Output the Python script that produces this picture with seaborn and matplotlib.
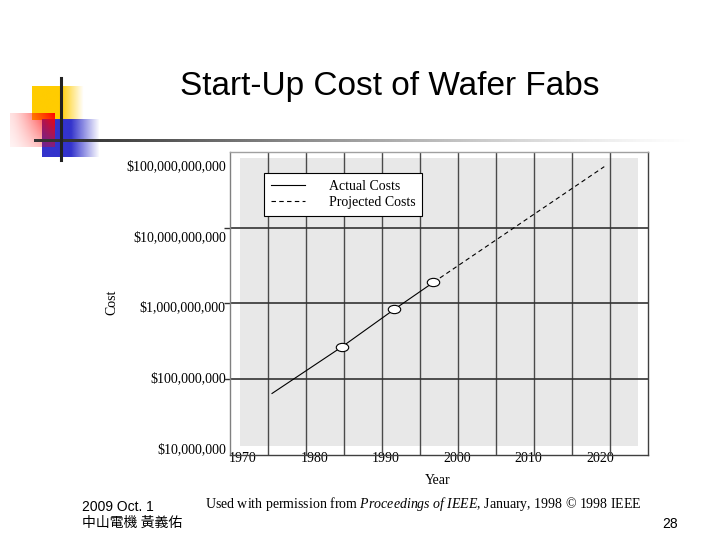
import numpy as np
import matplotlib
matplotlib.use('Agg')
import matplotlib.pyplot as plt
from matplotlib.patches import Rectangle
from matplotlib.path import Path
from matplotlib.transforms import Affine2D
from matplotlib.ticker import FixedLocator, NullFormatter
import seaborn as sns

plt.rcParams.update({
    'font.family': 'Liberation Serif',
    'font.size': 10,
    'mathtext.fontset': 'custom',
    'mathtext.rm': 'Liberation Serif',
    'mathtext.it': 'Liberation Serif:italic',
})

# Values (cost on a log scale)
ACTUAL_YEARS = [1974.1, 1983.9, 1991.2, 1996.7]
ACTUAL_COSTS = [5.9e7, 2.7e8, 9.1e8, 2.2e9]
MARKED_YEARS = [1983.9, 1991.2, 1996.7]
MARKED_COSTS = [2.7e8, 9.1e8, 2.2e9]
PROJ_YEARS = [1996.7, 2020.6]
PROJ_COSTS = [2.2e9, 9.5e10]

X_TICKS = [1970, 1980, 1990, 2000, 2010, 2020]
Y_TICKS = [1e7, 1e8, 1e9, 1e10, 1e11]
Y_LABELS = ['$10,000,000', '$100,000,000', '$1,000,000,000',
            '$10,000,000,000', '$100,000,000,000']
SERIES = ['Actual Costs', 'Projected Costs']

XLIM = (1968.22, 2026.72)
YLIM = (7.96e6, 1.53e11)

fig = plt.figure(figsize=(7.2, 5.4), dpi=100)

# ---- slide decoration (pixel coordinates) ----
deco = fig.add_axes([0, 0, 1, 1], zorder=-1)


def fade_block(ax, rgb, extent, alpha):
    img = np.zeros(alpha.shape + (4,))
    img[..., :3] = rgb
    img[..., 3] = alpha
    ax.imshow(img, extent=extent, aspect='auto', interpolation='bilinear')


xf = np.linspace(0, 1, 60)[None, :]
yf = np.linspace(0, 1, 40)[:, None]
ones = np.ones((40, 60))
fade_block(deco, (1.0, 0.8, 0.0), (32, 84, 120, 86),
           ones * np.clip((1 - xf) / 0.45, 0, 1))
fade_block(deco, (0.2, 0.2, 0.8), (42, 100, 157, 119),
           ones * np.clip((1 - xf) / 0.5, 0, 1))
fade_block(deco, (1.0, 0.0, 0.0), (10, 55, 147, 113),
           np.clip((0.12 + 0.88 * xf ** 1.4) * (1 - 0.6 * yf), 0, 1))
hx = np.linspace(0, 1, 300)[None, :]
fade_block(deco, (0.2, 0.2, 0.2), (34, 700, 142.5, 139.5),
           np.ones((2, 300)) * np.clip(1.1 * (1 - hx) ** 1.3, 0, 1))
deco.plot([61, 61], [78, 160], color='#222222', lw=2.2)
deco.set_xlim(0, 720)
deco.set_ylim(540, 0)
deco.axis('off')

# ---- chart ----
ax = fig.add_axes([230 / 720, 85 / 540, 418 / 720, 303 / 540])
ax.set_facecolor('white')
ax.add_patch(Rectangle((10 / 418, 9 / 303), 398 / 418, 288 / 303,
                       transform=ax.transAxes, color='#e8e8e8', lw=0, zorder=0.1))

sns.lineplot(x=ACTUAL_YEARS, y=ACTUAL_COSTS, ax=ax, color='black', lw=0.8,
             errorbar=None, label=SERIES[0])
sns.lineplot(x=PROJ_YEARS, y=PROJ_COSTS, ax=ax, color='black', lw=0.8,
             linestyle=(0, (4, 3)), errorbar=None, label=SERIES[1])
ellipse = Path.unit_circle().transformed(Affine2D().scale(1.5, 1.0))
sns.scatterplot(x=MARKED_YEARS, y=MARKED_COSTS, ax=ax, marker=ellipse, s=80,
                facecolor='white', edgecolor='black', linewidth=0.8, zorder=3)

ax.set_yscale('log')
ax.set_xlim(*XLIM)
ax.set_ylim(*YLIM)
ax.set_xticks(X_TICKS)
ax.set_yticks(Y_TICKS, Y_LABELS)

# grid divides the frame evenly, independent of the labelled ticks
ax.xaxis.set_minor_locator(FixedLocator(np.linspace(*XLIM, 12)[1:-1]))
ax.yaxis.set_minor_locator(FixedLocator(np.geomspace(*YLIM, 5)[1:-1]))
ax.xaxis.set_minor_formatter(NullFormatter())
ax.yaxis.set_minor_formatter(NullFormatter())
ax.set_axisbelow(True)
ax.grid(False, which='major')
ax.xaxis.grid(True, which='minor', color='#4a4a4a', lw=1.0)
ax.yaxis.grid(True, which='minor', color='#333333', lw=1.2)

ax.tick_params(axis='x', which='major', length=0, pad=-2.5, labelsize=10)
ax.tick_params(axis='x', which='minor', length=0)
ax.tick_params(axis='y', which='major', length=0, pad=3, labelsize=10)
ax.tick_params(axis='y', which='minor', length=4, width=1, color='#333333')

for side, c in [('left', '#808080'), ('bottom', '#404040'),
                ('right', '#404040'), ('top', '#a0a0a0')]:
    ax.spines[side].set_color(c)
    ax.spines[side].set_linewidth(1)

ax.set_xlabel('Year', fontsize=10)
ax.xaxis.set_label_coords(0.4976, -0.062)
ax.set_ylabel('Cost', fontsize=10)
ax.yaxis.set_label_coords(-0.268, 0.505)

leg = ax.legend(handles=ax.lines[:2], labels=SERIES, loc='upper left',
                bbox_to_anchor=((264 - 230) / 418, (455 - 173) / 303),
                borderaxespad=0, frameon=True, fancybox=False, edgecolor='black',
                framealpha=1, handlelength=2.45, handletextpad=1.7, borderpad=0.5,
                labelspacing=0.2, fontsize=10)
leg.get_frame().set_linewidth(0.8)

# ---- slide text ----
fig.text(389.5 / 720, 1 - 86 / 540, 'Start-Up Cost of Wafer Fabs',
         family='Liberation Sans', fontsize=24, ha='center', va='center')
fig.text(205 / 720, 1 - 504 / 540,
         r'Used with permission from $\mathit{Proceedings\ of\ IEEE}$, January, 1998 © 1998 IEEE',
         fontsize=10, ha='left', va='center')
fig.text(82 / 720, 1 - 507 / 540, '2009 Oct. 1', family=['Liberation Sans', 'Noto Sans CJK TC'],
         fontsize=10, ha='left', va='center')
fig.text(82 / 720, 1 - 523 / 540, '中山電機 黃義佑', family=['Noto Sans CJK TC', 'DejaVu Sans'],
         fontsize=10, ha='left', va='center')
fig.text(670 / 720, 1 - 524 / 540, '28', family='Liberation Sans',
         fontsize=10, ha='center', va='center')

fig.savefig('out.png', dpi=100)
